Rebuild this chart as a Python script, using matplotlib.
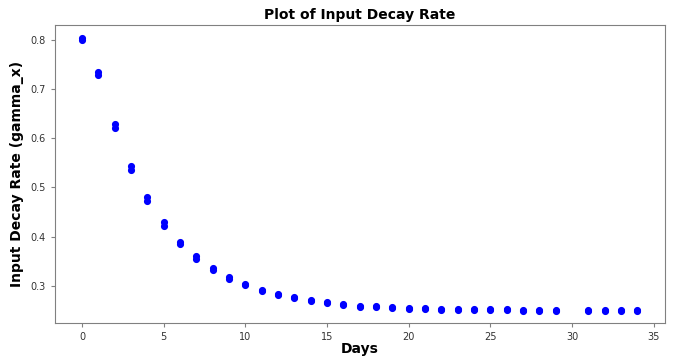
import numpy as np
import matplotlib.pyplot as plt

# days observed (day 30 missing)
days = [0, 1, 2, 3, 4, 5, 6, 7, 8, 9, 10, 11, 12, 13, 14, 15, 16, 17,
        18, 19, 20, 21, 22, 23, 24, 25, 26, 27, 28, 29, 31, 32, 33, 34]

# upper / lower readings of gamma_x for each day
gamma_hi = [0.803, 0.735, 0.628, 0.544, 0.480, 0.429, 0.390, 0.360, 0.336,
            0.318, 0.303, 0.291, 0.283, 0.277, 0.271, 0.267, 0.263, 0.260,
            0.259, 0.257, 0.256, 0.255, 0.254, 0.253, 0.253, 0.253, 0.253,
            0.252, 0.251, 0.251, 0.251, 0.251, 0.251, 0.251]
gamma_lo = [0.799, 0.728, 0.620, 0.536, 0.473, 0.422, 0.385, 0.354, 0.332,
            0.314, 0.301, 0.289, 0.281, 0.275, 0.269, 0.265, 0.261, 0.258,
            0.257, 0.256, 0.254, 0.254, 0.252, 0.252, 0.252, 0.252, 0.252,
            0.250, 0.250, 0.250, 0.250, 0.250, 0.250, 0.250]

x = np.array(days + days)
y = np.array(gamma_hi + gamma_lo)

fig, ax = plt.subplots(figsize=(6.8, 3.56), dpi=100)
fig.subplots_adjust(left=0.081, right=0.978, top=0.93, bottom=0.093)

ax.scatter(x, y, color="blue", s=17, zorder=3)

ax.set_xlim(-1.65, 35.7)
ax.set_ylim(0.225, 0.830)
ax.set_xticks([0, 5, 10, 15, 20, 25, 30, 35])
ax.set_yticks([0.3, 0.4, 0.5, 0.6, 0.7, 0.8])

for s in ax.spines.values():
    s.set_color("#808080")
ax.tick_params(labelsize=7, colors="#333333", length=3, width=0.8)
ax.tick_params(color="#808080")

ax.set_title("Plot of Input Decay Rate", fontsize=10, fontweight="bold", pad=4)
ax.set_xlabel("Days", fontsize=10, fontweight="bold", labelpad=0)
ax.set_ylabel("Input Decay Rate (gamma_x)", fontsize=10, fontweight="bold", labelpad=5)

fig.savefig("out.png")
